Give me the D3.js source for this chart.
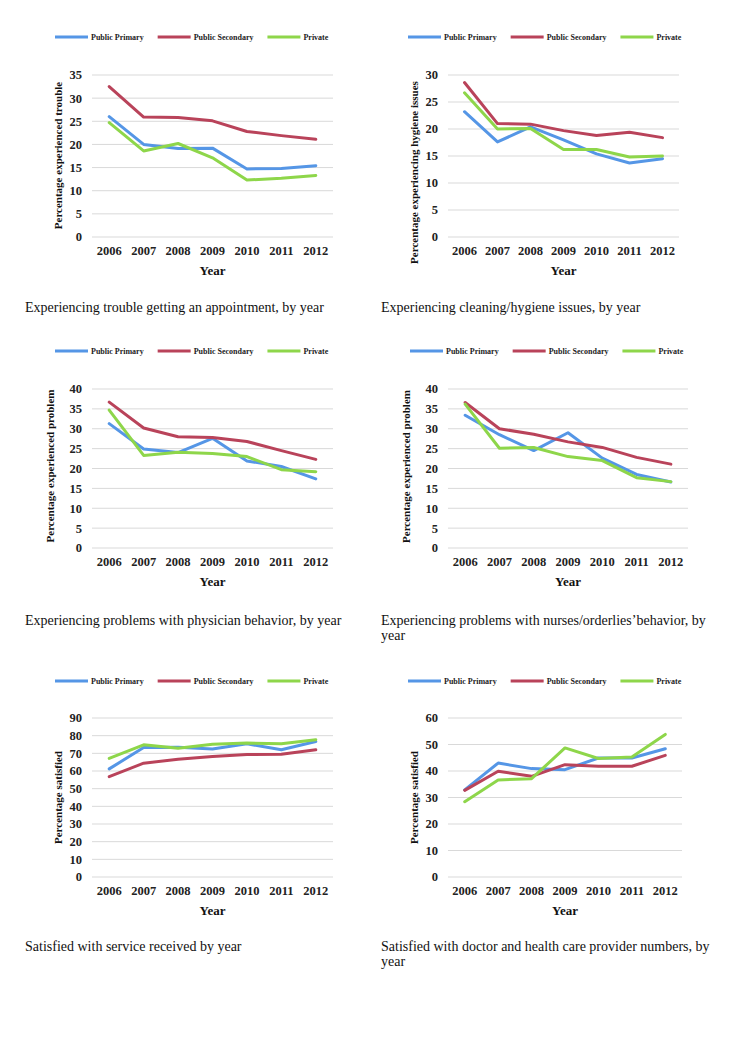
<!DOCTYPE html>
<html><head><meta charset="utf-8">
<script src="https://cdn.jsdelivr.net/npm/d3@7"></script>
<style>
html,body{margin:0;padding:0;background:#fff;}
svg{display:block;}
</style></head>
<body>
<script>
const years = ["2006","2007","2008","2009","2010","2011","2012"];
const seriesNames = ["Public Primary","Public Secondary","Private"];
const seriesColors = ["#5596e6","#b9435a","#8ed64a"];

// Panel 1: trouble getting an appointment
const apptPrimary   = [26.0,20.0,19.1,19.2,14.7,14.8,15.4];
const apptSecondary = [32.5,25.9,25.8,25.1,22.8,21.9,21.1];
const apptPrivate   = [24.7,18.6,20.2,17.1,12.3,12.7,13.3];
// Panel 2: cleaning/hygiene issues
const hygPrimary   = [23.2,17.6,20.4,18.0,15.4,13.7,14.5];
const hygSecondary = [28.6,21.0,20.9,19.7,18.8,19.4,18.4];
const hygPrivate   = [26.7,20.0,20.1,16.2,16.2,14.8,15.0];
// Panel 3: physician behavior
const physPrimary   = [31.3,24.9,24.0,27.6,21.9,20.5,17.4];
const physSecondary = [36.7,30.2,28.0,27.8,26.8,24.5,22.3];
const physPrivate   = [34.7,23.3,24.1,23.8,23.0,19.7,19.2];
// Panel 4: nurses/orderlies behavior
const nursePrimary   = [33.4,28.5,24.5,29.0,22.6,18.5,16.6];
const nurseSecondary = [36.6,30.0,28.6,26.7,25.3,22.8,21.1];
const nursePrivate   = [36.2,25.1,25.3,23.0,22.0,17.7,16.7];
// Panel 5: satisfied with service
const servPrimary   = [61.2,73.3,73.5,72.4,75.4,72.0,76.7];
const servSecondary = [56.8,64.4,66.7,68.2,69.3,69.5,72.0];
const servPrivate   = [67.1,74.8,72.9,75.2,75.8,75.4,77.7];
// Panel 6: doctor / provider numbers
const docPrimary   = [32.9,43.0,40.9,40.5,44.9,44.9,48.4];
const docSecondary = [32.7,39.9,38.0,42.4,41.8,41.8,45.9];
const docPrivate   = [28.4,36.6,37.1,48.7,44.7,45.3,53.8];

const yTicks1 = [0,5,10,15,20,25,30,35];
const yTicks2 = [0,5,10,15,20,25,30];
const yTicks3 = [0,5,10,15,20,25,30,35,40];
const yTicks5 = [0,10,20,30,40,50,60,70,80,90];
const yTicks6 = [0,10,20,30,40,50,60];

const yTitles = ["Percentage experienced trouble","Percentage experiencing hygiene issues",
  "Percentage experienced problem","Percentage experienced problem",
  "Percentage satisfied","Percentage satisfied"];
const captions = [
  ["Experiencing trouble getting an appointment, by year"],
  ["Experiencing cleaning/hygiene issues, by year"],
  ["Experiencing problems with physician behavior, by year"],
  ["Experiencing problems with nurses/orderlies\u2019behavior, by","year"],
  ["Satisfied with service received by year"],
  ["Satisfied with doctor and health care provider numbers, by","year"]
];

// layout (positions only)
const panels = [
  {data:[apptPrimary,apptSecondary,apptPrivate], ticks:yTicks1, x0:92, x1:333, top:75, bottom:237, legX:55, legY:37, yLabX:82, tX:58, tY:155.5, capX:25, capY:307},
  {data:[hygPrimary,hygSecondary,hygPrivate], ticks:yTicks2, x0:448, x1:679, top:75, bottom:237, legX:408, legY:37, yLabX:438, tX:414, tY:172.5, capX:381, capY:307},
  {data:[physPrimary,physSecondary,physPrivate], ticks:yTicks3, x0:92, x1:333, top:389, bottom:548, legX:55, legY:351, yLabX:82, tX:50, tY:466, capX:25, capY:620},
  {data:[nursePrimary,nurseSecondary,nursePrivate], ticks:yTicks3, x0:448, x1:688, top:389, bottom:548, legX:410, legY:351, yLabX:438, tX:406, tY:466.5, capX:381, capY:620},
  {data:[servPrimary,servSecondary,servPrivate], ticks:yTicks5, x0:92, x1:333, top:718, bottom:877, legX:55, legY:681, yLabX:82, tX:58, tY:797.5, capX:25, capY:946},
  {data:[docPrimary,docSecondary,docPrivate], ticks:yTicks6, x0:448, x1:682, top:718, bottom:877, legX:408, legY:681, yLabX:438, tX:414, tY:797.5, capX:381, capY:946}
];

const svg = d3.select("body").append("svg").attr("width",742).attr("height",1056);
const SERIF = "'Liberation Serif', 'Times New Roman', serif";

panels.forEach((p,i)=>{
  const g = svg.append("g");
  const x = d3.scaleBand().domain(years).range([p.x0,p.x1]);
  const y = d3.scaleLinear().domain([0,d3.max(p.ticks)]).range([p.bottom,p.top]);

  // gridlines
  g.selectAll("line.grid").data(p.ticks).enter().append("line")
    .attr("x1",p.x0).attr("x2",p.x1)
    .attr("y1",d=>y(d)).attr("y2",d=>y(d))
    .attr("stroke","#d9d9d9").attr("stroke-width",1);

  // y tick labels
  g.selectAll("text.yt").data(p.ticks).enter().append("text")
    .attr("x",p.yLabX).attr("y",d=>y(d)).attr("dy","0.35em")
    .attr("text-anchor","end").attr("font-family",SERIF).attr("font-size",12.5)
    .attr("font-weight","bold").attr("fill","#222").text(d=>d);

  // x tick labels
  g.selectAll("text.xt").data(years).enter().append("text")
    .attr("x",d=>x(d)+x.bandwidth()/2).attr("y",p.bottom+14).attr("dy","0.35em")
    .attr("text-anchor","middle").attr("font-family",SERIF).attr("font-size",12.5)
    .attr("font-weight","bold").attr("fill","#222").text(d=>d);

  // x title
  g.append("text").attr("x",(p.x0+p.x1)/2).attr("y",p.bottom+33).attr("dy","0.35em")
    .attr("text-anchor","middle").attr("font-family",SERIF).attr("font-size",13)
    .attr("font-weight","bold").attr("fill","#111").text("Year");

  // y title
  g.append("text").attr("transform",`translate(${p.tX},${p.tY}) rotate(-90)`)
    .attr("dy","0.35em").attr("text-anchor","middle").attr("font-family",SERIF)
    .attr("font-size",11).attr("font-weight","bold").attr("fill","#111").text(yTitles[i]);

  // lines
  const line = d3.line().x((d,j)=>x(years[j])+x.bandwidth()/2).y(d=>y(d));
  p.data.forEach((s,k)=>{
    g.append("path").datum(s).attr("d",line).attr("fill","none")
      .attr("stroke",seriesColors[k]).attr("stroke-width",3)
      .attr("stroke-linejoin","round").attr("stroke-linecap","round");
  });

  // legend
  let lx = p.legX;
  seriesNames.forEach((n,k)=>{
    g.append("line").attr("x1",lx).attr("x2",lx+33).attr("y1",p.legY).attr("y2",p.legY)
      .attr("stroke",seriesColors[k]).attr("stroke-width",3);
    const t = g.append("text").attr("x",lx+36).attr("y",p.legY).attr("dy","0.35em")
      .attr("font-family",SERIF).attr("font-size",8).attr("font-weight","bold")
      .attr("fill","#222").text(n);
    lx += 36 + t.node().getComputedTextLength() + 14;
  });

  // caption
  captions[i].forEach((c,m)=>{
    g.append("text").attr("x",p.capX).attr("y",p.capY + m*15).attr("dy","0.35em")
      .attr("font-family",SERIF).attr("font-size",14).attr("fill","#111").text(c);
  });
});
</script>
</body></html>
